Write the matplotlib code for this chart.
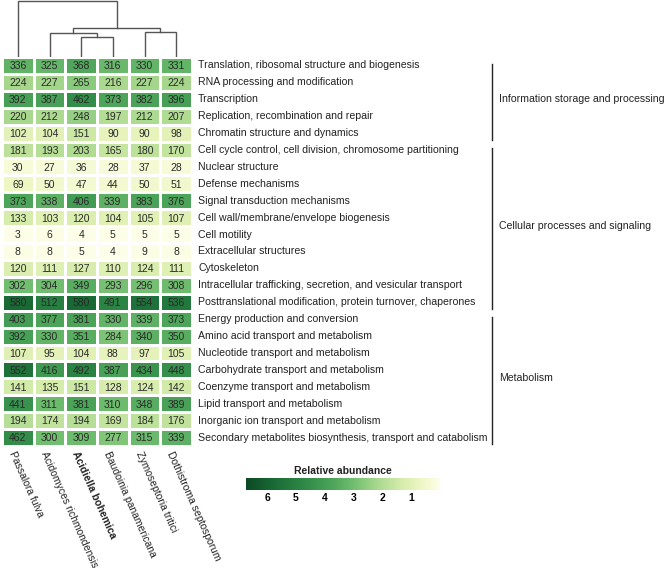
import numpy as np
import matplotlib
matplotlib.use("Agg")
import matplotlib.pyplot as plt
from matplotlib.colors import LinearSegmentedColormap

plt.rcParams['font.family'] = ['Liberation Sans', 'DejaVu Sans']
plt.rcParams['text.color'] = '#222222'

# ---- data ----
species = ['Passalora fulva', 'Acidomyces richmondensis', 'Acidiella bohemica',
           'Baudoinia panamericana', 'Zymoseptoria tritici', 'Dothistroma septosporum']

categories = [
    'Translation, ribosomal structure and biogenesis',
    'RNA processing and modification',
    'Transcription',
    'Replication, recombination and repair',
    'Chromatin structure and dynamics',
    'Cell cycle control, cell division, chromosome partitioning',
    'Nuclear structure',
    'Defense mechanisms',
    'Signal transduction mechanisms',
    'Cell wall/membrane/envelope biogenesis',
    'Cell motility',
    'Extracellular structures',
    'Cytoskeleton',
    'Intracellular trafficking, secretion, and vesicular transport',
    'Posttranslational modification, protein turnover, chaperones',
    'Energy production and conversion',
    'Amino acid transport and metabolism',
    'Nucleotide transport and metabolism',
    'Carbohydrate transport and metabolism',
    'Coenzyme transport and metabolism',
    'Lipid transport and metabolism',
    'Inorganic ion transport and metabolism',
    'Secondary metabolites biosynthesis, transport and catabolism',
]

counts = [
    [336, 325, 368, 316, 330, 331],
    [224, 227, 265, 216, 227, 224],
    [392, 387, 462, 373, 382, 396],
    [220, 212, 248, 197, 212, 207],
    [102, 104, 151, 90, 90, 98],
    [181, 193, 203, 165, 180, 170],
    [30, 27, 36, 28, 37, 28],
    [69, 50, 47, 44, 50, 51],
    [373, 338, 406, 339, 383, 376],
    [133, 103, 120, 104, 105, 107],
    [3, 6, 4, 5, 5, 5],
    [8, 8, 5, 4, 9, 8],
    [120, 111, 127, 110, 124, 111],
    [302, 304, 349, 293, 296, 308],
    [580, 512, 580, 491, 554, 536],
    [403, 377, 381, 330, 339, 373],
    [392, 330, 351, 284, 340, 350],
    [107, 95, 104, 88, 97, 105],
    [552, 416, 492, 387, 434, 448],
    [141, 135, 151, 128, 124, 142],
    [441, 311, 381, 310, 348, 389],
    [194, 174, 194, 169, 184, 176],
    [462, 300, 309, 277, 315, 339],
]

groups = ['Information storage and processing', 'Cellular processes and signaling', 'Metabolism']
group_sizes = [5, 10, 8]

# dendrogram merges: (left node, right node, height); leaves are 0..5
merges = [(2, 3, 20), (4, 5, 25), (1, 6, 24), (8, 7, 29), (0, 9, 56)]

cbar_ticks = [6, 5, 4, 3, 2, 1]
vmax = 6.73

# ---- colours ----
cmap = LinearSegmentedColormap.from_list('abund', [
    (0.0, '#fdfee8'), (0.1, '#eef6c4'), (0.2, '#d5ecaa'), (0.33, '#a6d78c'),
    (0.45, '#70bd6f'), (0.55, '#4ea65a'), (0.7, '#2f8a47'), (0.85, '#1a6c37'),
    (1.0, '#0b4a24')])

W, H = 666, 568
fig = plt.figure(figsize=(W / 100, H / 100), dpi=100)

def px_axes(x0, y0, x1, y1):
    return fig.add_axes([x0 / W, 1 - y1 / H, (x1 - x0) / W, (y1 - y0) / H])

nrow, ncol = len(categories), len(species)
data = np.array(counts) / 100.0

# heatmap
ax = px_axes(2, 57, 192, 446)
ax.pcolormesh(np.arange(ncol + 1), np.arange(nrow + 1), data, cmap=cmap, vmin=0, vmax=vmax,
              edgecolors='white', linewidth=0.8)
ax.set_xlim(0, ncol)
ax.set_ylim(nrow, 0)
ax.axis('off')

for i in range(nrow):
    for j in range(ncol):
        ax.text(j + 0.5, i + 0.55, str(counts[i][j]), ha='center', va='center',
                fontsize=7.5, color='#2a2a2a')
    ax.text(ncol + 0.19, i + 0.5, categories[i], ha='left', va='center', fontsize=7.6,
            clip_on=False)

for j, name in enumerate(species):
    ax.text(j + 0.3, nrow + 0.35, name, rotation=-66, rotation_mode='anchor',
            ha='left', va='center', fontsize=7.5, clip_on=False,
            fontweight='bold' if name == 'Acidiella bohemica' else 'normal')

# group brackets
start = 0
for g, n in zip(groups, group_sizes):
    ax.plot([15.47, 15.47], [start + 0.4, start + n - 0.12], color='#222222', lw=1.0,
            clip_on=False)
    ax.text(15.7, start + n / 2, g, ha='left', va='center', fontsize=7.6, clip_on=False)
    start += n

# dendrogram
dax = px_axes(2, 0, 192, 57)
dax.set_xlim(0, ncol)
dax.set_ylim(0, 57)
dax.axis('off')
pos = {k: (k + 0.5, 0) for k in range(ncol)}
for k, (a, b, h) in enumerate(merges):
    xa, ha_ = pos[a]
    xb, hb = pos[b]
    dax.plot([xa, xa, xb, xb], [ha_, h, h, hb], color='#555555', lw=1.0,
             solid_joinstyle='miter')
    pos[ncol + k] = ((xa + xb) / 2, h)

# colour bar
cax = px_axes(246, 478, 440, 490)
grad = np.linspace(0, vmax, 256).reshape(1, -1)
cax.imshow(grad, aspect='auto', cmap=cmap, vmin=0, vmax=vmax, extent=(0, vmax, 0, 1))
cax.set_xlim(vmax, 0)
cax.set_yticks([])
cax.set_xticks(cbar_ticks)
cax.set_xticklabels([str(t) for t in cbar_ticks], fontsize=7.5, fontweight='bold')
cax.tick_params(axis='x', length=0, pad=2.5)
for s in cax.spines.values():
    s.set_visible(False)
cax.set_title('Relative abundance', fontsize=7.5, fontweight='bold', pad=3)

fig.savefig('out.png', dpi=100, facecolor='white')
